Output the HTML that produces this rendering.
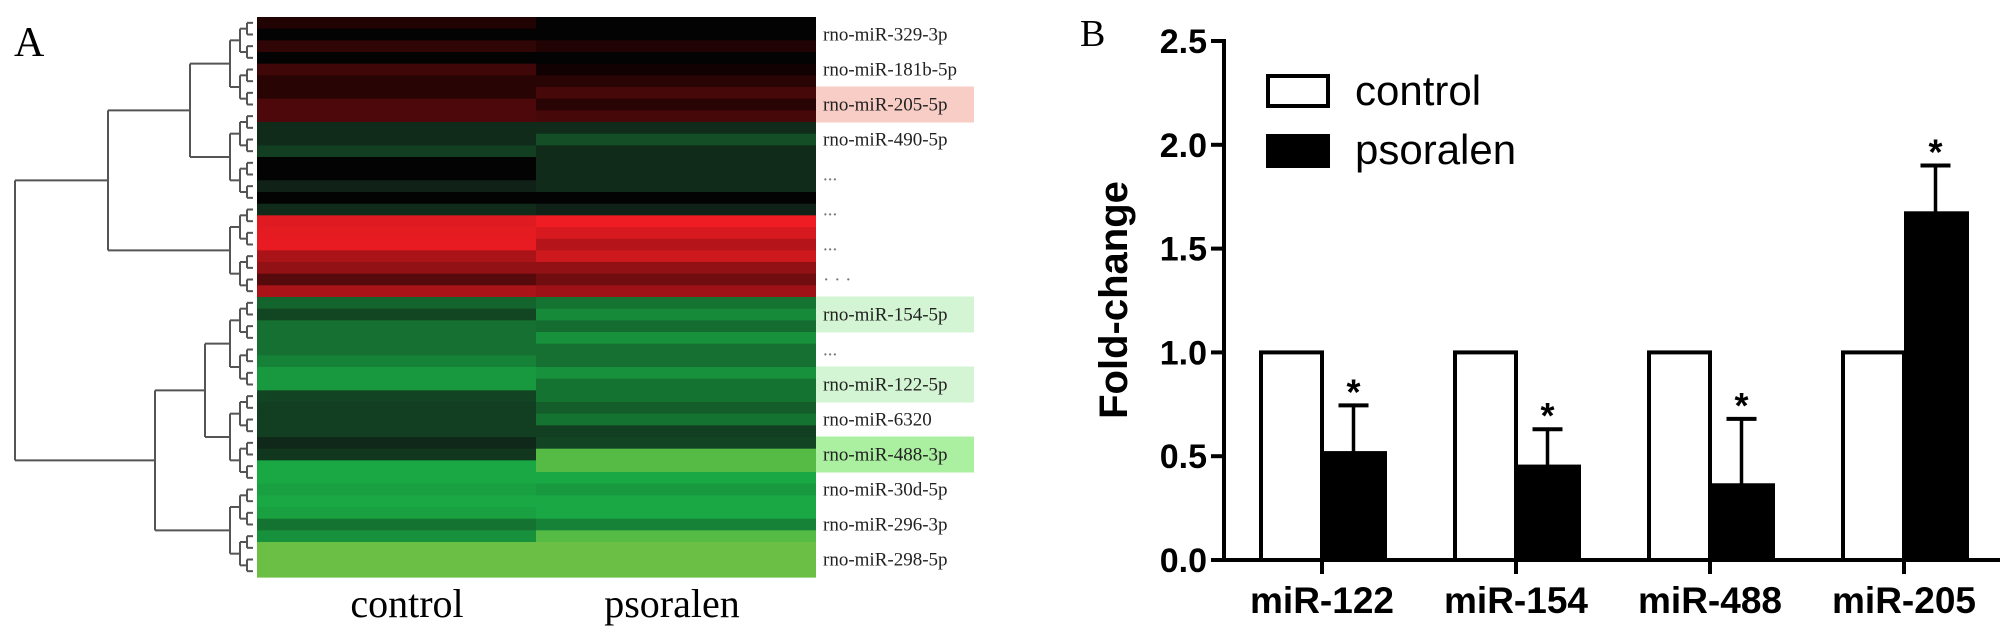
<!DOCTYPE html>
<html><head><meta charset="utf-8"><style>
html,body{margin:0;padding:0;background:#fff;}
svg{display:block;}
</style></head><body>
<svg id="fig" width="2008" height="641" viewBox="0 0 2008 641" xmlns="http://www.w3.org/2000/svg">
<rect x="0" y="0" width="2008" height="641" fill="#fff"/>
<text x="14" y="56" font-family="Liberation Serif, serif" font-size="42">A</text>
<text x="1080" y="46" font-family="Liberation Serif, serif" font-size="38">B</text>
<g id="dendro" stroke="#555" stroke-width="2" fill="none"></g>
<g id="heat"></g>
<g id="hlabels"></g>
<text x="407" y="617" text-anchor="middle" font-family="Liberation Serif, serif" font-size="40">control</text>
<text x="672" y="617" text-anchor="middle" font-family="Liberation Serif, serif" font-size="40">psoralen</text>
<g id="bars"></g>
</svg>
<script>
// ---------- Heatmap data ----------
const heatControl = [0.12,0.02,0.18,0.03,0.25,0.15,0.15,0.3,0.3,-0.12,-0.12,-0.25,-0.02,-0.03,-0.06,-0.04,-0.12,
 0.93,0.95,0.97,0.7,0.6,0.35,0.7,-0.5,-0.3,-0.58,-0.58,-0.58,-0.7,-0.85,-0.85,-0.28,-0.25,-0.25,-0.25,-0.1,-0.2,
 -0.95,-0.95,-0.9,-0.95,-0.9,-0.6,-0.8,-1.2,-1.2,-1.2];
const heatPsoralen = [0,0.02,0.12,0.02,0.05,0.15,0.28,0.15,0.28,-0.12,-0.35,-0.12,-0.12,-0.12,-0.12,-0.02,-0.05,
 1,0.9,0.75,0.85,0.6,0.45,0.65,-0.6,-0.75,-0.55,-0.8,-0.58,-0.58,-0.8,-0.6,-0.6,-0.45,-0.6,-0.25,-0.28,-1.15,
 -1.15,-0.95,-0.85,-0.95,-0.95,-0.7,-1.15,-1.2,-1.2,-1.2];
const rowLabels = ["rno-miR-329-3p","rno-miR-181b-5p","rno-miR-205-5p","rno-miR-490-5p","...","...","...","· · ·",
 "rno-miR-154-5p","...","rno-miR-122-5p","rno-miR-6320","rno-miR-488-3p","rno-miR-30d-5p","rno-miR-296-3p","rno-miR-298-5p"];
const rowHighlights = ["","","#f8cdc6","","","","","","#d3f5d3","","#d3f5d3","","#aaf0a0","","",""];

// ---------- Bar chart data ----------
const categories = ["miR-122","miR-154","miR-488","miR-205"];
const controlValues = [1,1,1,1];
const psoralenValues = [0.515,0.45,0.36,1.67];
const psoralenErrors = [0.23,0.18,0.32,0.23];
const yTicks = ["0.0","0.5","1.0","1.5","2.0","2.5"];

const NS="http://www.w3.org/2000/svg";
function mk(tag, attrs, parent){const e=document.createElementNS(NS,tag);for(const k in attrs)e.setAttribute(k,attrs[k]);parent.appendChild(e);return e;}

// heatmap
const HX0=257, HXM=536, HX1=816, HY0=17, HY1=577;
const nRows=heatControl.length, rh=(HY1-HY0)/nRows;
function rowY(i){return HY0+i*rh;}
function heatColor(v){
  if(Math.abs(v)<0.05) return "rgb(3,3,3)";
  if(v>0){return `rgb(${Math.round(235*v+5)},${Math.round(28*v)},${Math.round(35*v)})`;}
  const a=-v;
  if(a<=1) return `rgb(${Math.round(15+10*a)},${Math.round(25+150*a)},${Math.round(20+50*a)})`;
  const t=Math.min(1,(a-1)/0.2);
  return `rgb(${Math.round(25+82*t)},${Math.round(175+16*t)},${Math.round(70-2*t)})`;
}
const heat=document.getElementById('heat');
for(let i=0;i<nRows;i++){
  const r1=mk('rect',{x:HX0,y:rowY(i),width:HXM-HX0,height:rh+0.6,fill:heatColor(heatControl[i])},heat);
  
  
  const r2=mk('rect',{x:HXM,y:rowY(i),width:HX1-HXM,height:rh+0.6,fill:heatColor(heatPsoralen[i])},heat);
  
  
}
// row labels
const hl=document.getElementById('hlabels');
const lh=(HY1-HY0)/rowLabels.length;
rowLabels.forEach((t,i)=>{
  const cy=HY0+lh*(i+0.5);
  if(rowHighlights[i]){
    const b=mk('rect',{x:816,y:cy-18,width:158,height:36,fill:rowHighlights[i]},hl);
    
    
  }
  const tx=mk('text',{x:823,y:cy+6,'font-family':'Liberation Serif, serif','font-size':19,fill:t.startsWith('.')||t.startsWith('·')?'#777':'#222'},hl);
  tx.textContent=t;
  
  
});

// dendrogram
const dg=document.getElementById('dendro');
function line(x1,y1,x2,y2){const l=mk('line',{x1,y1,x2,y2},dg);}
function join(xa,ya,xb,yb,xj){line(xa,ya,xj,ya);line(xb,yb,xj,yb);line(xj,ya,xj,yb);return (ya+yb)/2;}
function tree(lo,hi,xs){
  if(hi-lo===1) return {y:rowY(lo)+rh/2,x:253};
  const mid=(lo+hi)>>1, lev=Math.log2(hi-lo)-1;
  const a=tree(lo,mid,xs), b=tree(mid,hi,xs);
  const xj=xs[lev];
  return {y:join(a.x,a.y,b.x,b.y,xj),x:xj};
}
const xs=[247,240,230];
const g=[];
for(let k=0;k<6;k++) g.push(tree(k*8,k*8+8,xs));
const y01=join(g[0].x,g[0].y,g[1].x,g[1].y,190);
const yA=join(190,y01,g[2].x,g[2].y,108);
const y34=join(g[3].x,g[3].y,g[4].x,g[4].y,205);
const yB=join(205,y34,g[5].x,g[5].y,155);
join(108,yA,155,yB,15);

// bar chart
const bars=document.getElementById('bars');
const AX=1224, Y0=560, YTOP=41, YMAX=2.5, XEND=2000;
function ys(v){return Y0-(Y0-YTOP)*v/YMAX;}
function xc(i){return 1322+i*194;}
const BW=63;
yTicks.forEach((t)=>{
  const v=parseFloat(t), y=ys(v);
  const tk=mk('line',{x1:AX-13,y1:y,x2:AX,y2:y,stroke:'#000','stroke-width':4},bars);
  
  
  const tx=mk('text',{x:AX-17,y:y+12,'text-anchor':'end','font-family':'Liberation Sans, sans-serif','font-weight':'bold','font-size':34},bars);
  tx.textContent=t;
  
  
});
categories.forEach((c,i)=>{
  const x=xc(i);
  const cb=mk('rect',{x:x-BW+2,y:ys(controlValues[i]),width:BW-2,height:Y0-ys(controlValues[i]),fill:'#fff',stroke:'#000','stroke-width':4},bars);
  
  
  const top=ys(psoralenValues[i]+psoralenErrors[i]);
  const el=mk('line',{x1:x+BW/2,y1:ys(psoralenValues[i]),x2:x+BW/2,y2:top,stroke:'#000','stroke-width':3.5},bars);
  
  
  const cap=mk('line',{x1:x+BW/2-15,y1:top,x2:x+BW/2+15,y2:top,stroke:'#000','stroke-width':4},bars);
  
  
  const pb=mk('rect',{x:x+2,y:ys(psoralenValues[i]),width:BW-2,height:Y0-ys(psoralenValues[i]),fill:'#000',stroke:'#000','stroke-width':4},bars);
  
  
  const st=mk('text',{x:x+BW/2,y:top-1,'text-anchor':'middle','font-family':'Liberation Sans, sans-serif','font-weight':'bold','font-size':36},bars);
  st.textContent='*';
  
  
  const xt=mk('line',{x1:x,y1:Y0,x2:x,y2:Y0+14,stroke:'#000','stroke-width':4},bars);
  
  
  const lb=mk('text',{x:x,y:613,'text-anchor':'middle','font-family':'Liberation Sans, sans-serif','font-weight':'bold','font-size':37},bars);
  lb.textContent=c;
  
  
});
const ya=mk('line',{x1:AX,y1:YTOP-2,x2:AX,y2:Y0+2,stroke:'#000','stroke-width':4},bars);


const xa=mk('line',{x1:AX-2,y1:Y0,x2:XEND,y2:Y0,stroke:'#000','stroke-width':4},bars);


const yt=mk('text',{x:0,y:0,transform:'translate(1127,300) rotate(-90)','text-anchor':'middle','font-family':'Liberation Sans, sans-serif','font-weight':'bold','font-size':40},bars);
yt.textContent='Fold-change';


// legend
const l1=mk('rect',{x:1268,y:76,width:60,height:30,fill:'#fff',stroke:'#000','stroke-width':4},bars);


const l2=mk('rect',{x:1268,y:136,width:60,height:30,fill:'#000',stroke:'#000','stroke-width':4},bars);


const t1=mk('text',{x:1355,y:105,'font-family':'Liberation Sans, sans-serif','font-size':42},bars);
t1.textContent='control';


const t2=mk('text',{x:1355,y:164,'font-family':'Liberation Sans, sans-serif','font-size':42},bars);
t2.textContent='psoralen';


</script>
</body></html>
